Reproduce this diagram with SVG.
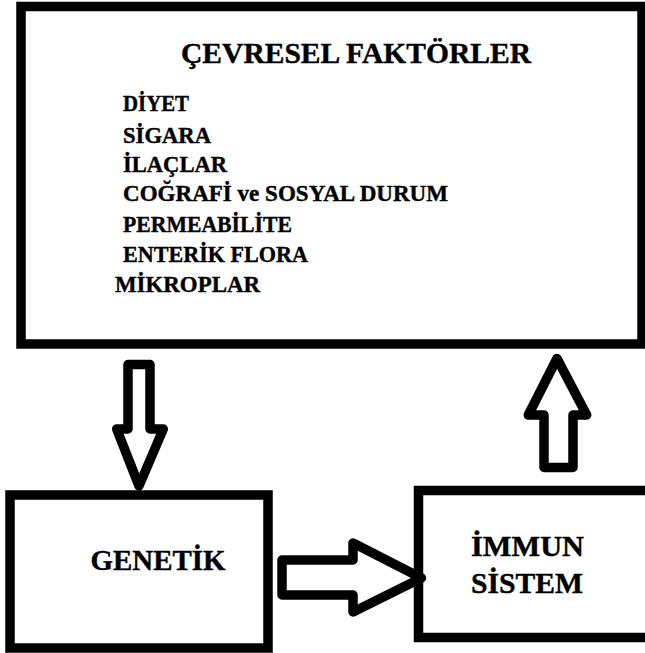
<svg xmlns="http://www.w3.org/2000/svg" width="645" height="653" viewBox="0 0 645 653">
<style>
.box{fill:#fff;stroke:#000;stroke-width:9.5}
.arr{fill:#fff;stroke:#000;stroke-width:9.5;stroke-linejoin:round}
.t{font-size:29px}
.i{font-size:23px}
text{stroke:#000;stroke-width:0.4}
</style>
<rect width="645" height="653" fill="#fff"/>
<g font-family="Liberation Serif, Times New Roman, DejaVu Serif, serif" font-weight="bold" fill="#000">
<g id="cevresel">
<rect class="box" x="21" y="6.5" width="621" height="337.5"/>
<text class="t" x="181" y="63" textLength="350" lengthAdjust="spacingAndGlyphs">ÇEVRESEL FAKTÖRLER</text>
<text class="i" x="123" y="111" textLength="66" lengthAdjust="spacingAndGlyphs">DİYET</text>
<text class="i" x="123" y="143" textLength="88" lengthAdjust="spacingAndGlyphs">SİGARA</text>
<text class="i" x="123" y="172" textLength="104" lengthAdjust="spacingAndGlyphs">İLAÇLAR</text>
<text class="i" x="123" y="201" textLength="325" lengthAdjust="spacingAndGlyphs">COĞRAFİ ve SOSYAL DURUM</text>
<text class="i" x="123" y="232" textLength="169" lengthAdjust="spacingAndGlyphs">PERMEABİLİTE</text>
<text class="i" x="123" y="262" textLength="185" lengthAdjust="spacingAndGlyphs">ENTERİK FLORA</text>
<text class="i" x="115" y="292" textLength="145" lengthAdjust="spacingAndGlyphs">MİKROPLAR</text>
</g>
<g id="genetik">
<rect class="box" x="10" y="495" width="258" height="153" stroke-width="10"/>
<text class="t" x="90.5" y="570" textLength="135" lengthAdjust="spacingAndGlyphs">GENETİK</text>
</g>
<g id="immun">
<rect class="box" x="418.5" y="490.5" width="240" height="147" stroke-width="10"/>
<text class="t" x="471" y="556" textLength="113" lengthAdjust="spacingAndGlyphs">İMMUN</text>
<text class="t" x="471" y="592.5" textLength="112" lengthAdjust="spacingAndGlyphs">SİSTEM</text>
</g>
</g>
<g id="connectors">
<path class="arr" d="M128,429 L128,364.5 L150,364.5 L150,429 L163.3,429 L139,486 L116.7,429 Z"/>
<path class="arr" d="M544,415 L544,467.5 L573,467.5 L573,415 L586.7,415 L557,358.5 L528.3,415 Z"/>
<path class="arr" d="M353,560 L282,560 L282,595 L353,595 L353,612 L421.5,578 L353,543 Z"/>
</g>
</svg>
